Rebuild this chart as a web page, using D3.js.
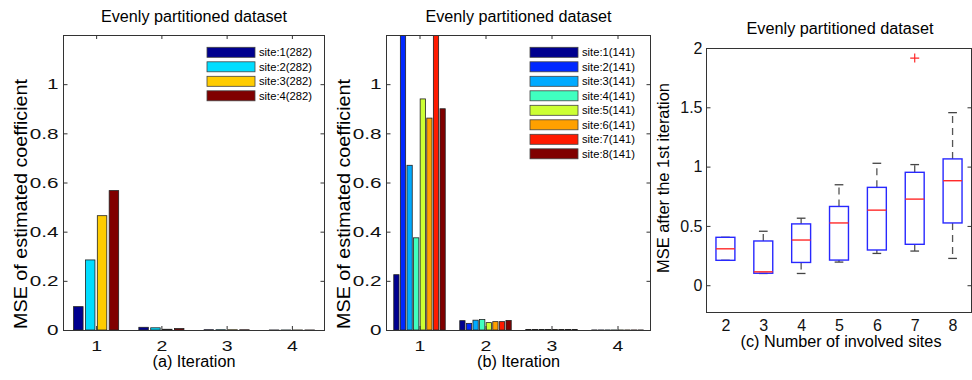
<!DOCTYPE html>
<html>
<head>
<meta charset="utf-8">
<script src="https://cdn.jsdelivr.net/npm/d3@7"></script>
<style>
  body { margin: 0; background: #fff; }
  svg { display: block; font-family: "Liberation Sans", Arial, Helvetica, sans-serif; }
  .axis path { display: none; }
  .axis line { stroke: #333; }
  .axis text { fill: #111; }
</style>
</head>
<body>
<div id="chart"></div>
<script>
// ---- data ----
const iterations = [1, 2, 3, 4];
const yTicksBar = [0, 0.2, 0.4, 0.6, 0.8, 1];

// (a) four sites, 282 samples each: MSE per iteration
const sitesA = ["site:1(282)", "site:2(282)", "site:3(282)", "site:4(282)"];
const mseA = [
    [0.095, 0.011, 0.0012, 0.0002],
    [0.285, 0.009, 0.0012, 0.0002],
    [0.465, 0.003, 0.0010, 0.0002],
    [0.567, 0.006, 0.0010, 0.0002]
];
const colorsA = ["#00008f", "#00ddff", "#ffcc00", "#800000"];

// (b) eight sites, 141 samples each
const sitesB = ["site:1(141)", "site:2(141)", "site:3(141)", "site:4(141)",
                "site:5(141)", "site:6(141)", "site:7(141)", "site:8(141)"];
const mseB = [
    [0.225, 0.038, 0.002, 0.0003],
    [1.300, 0.027, 0.002, 0.0003],
    [0.670, 0.040, 0.002, 0.0003],
    [0.375, 0.043, 0.002, 0.0003],
    [0.940, 0.030, 0.002, 0.0003],
    [0.862, 0.034, 0.002, 0.0003],
    [1.350, 0.034, 0.002, 0.0003],
    [0.900, 0.039, 0.002, 0.0003]
];
const colorsB = ["#00008f", "#0028ff", "#00aaff", "#40ffc0", "#ccff33", "#ffa000", "#ff1a00", "#800000"];

// (c) box plot: MSE after the 1st iteration vs number of sites
const siteCounts = [2, 3, 4, 5, 6, 7, 8];
const whiskerLo = [0.210, 0.099, 0.099, 0.195, 0.268, 0.288, 0.226];
const q1 = [0.210, 0.101, 0.192, 0.212, 0.297, 0.345, 0.525];
const medians = [0.307, 0.113, 0.381, 0.525, 0.633, 0.726, 0.881];
const q3 = [0.404, 0.373, 0.517, 0.664, 0.825, 0.952, 1.065];
const whiskerHi = [0.404, 0.455, 0.565, 0.847, 1.028, 1.017, 1.455];
const outliers = [[], [], [], [], [], [1.915], []];
const yTicksBox = [0, 0.5, 1, 1.5, 2];

const title = "Evenly partitioned dataset";

// ---- drawing ----
const width = 972, height = 380;
const svg = d3.select("#chart").append("svg")
    .attr("width", width)
    .attr("height", height);

const tickFmt = d => String(+d.toFixed(2));

// the source figure's font is wider than Liberation Sans, so widen text along its baseline
function fitWidth(sel, w) {
    sel.attr("textLength", w).attr("lengthAdjust", "spacingAndGlyphs");
}
// widen axis tick labels around their anchor point
function widen(sel, k) {
    sel.each(function () {
        const x0 = +this.getAttribute("x") || 0;
        d3.select(this).attr("transform", `translate(${x0},0) scale(${k},1) translate(${-x0},0)`);
    });
}

function frame(g, w, h) {
    g.append("rect")
        .attr("width", w).attr("height", h)
        .attr("fill", "none")
        .attr("stroke", "#333")
        .attr("shape-rendering", "crispEdges");
}

function barPanel(opts) {
    const { left, right, top, bottom, sites, values, colors, xlabel, clipId, legendX, ylabelX } = opts;
    const w = right - left, h = bottom - top;
    const g = svg.append("g").attr("transform", `translate(${left},${top})`);

    const x = d3.scaleLinear().domain([0.5, 4.5]).range([0, w]);
    const y = d3.scaleLinear().domain([0, 1.2]).range([h, 0]);

    // grouped bars, MATLAB style group width
    const n = sites.length;
    const groupW = Math.min(0.8, n / (n + 1.5));

    g.append("clipPath").attr("id", clipId)
        .append("rect").attr("width", w).attr("height", h);

    const bars = g.append("g").attr("clip-path", `url(#${clipId})`);
    iterations.forEach((it, i) => {
        const inner = d3.scaleBand()
            .domain(d3.range(n))
            .range([x(it - groupW / 2), x(it + groupW / 2)])
            .paddingInner(0.2)
            .paddingOuter(0.1);
        bars.selectAll(null)
            .data(sites.map((s, k) => ({ k, v: values[k][i] })))
            .enter().append("rect")
            .attr("x", d => inner(d.k))
            .attr("width", inner.bandwidth())
            .attr("y", d => y(d.v))
            .attr("height", d => y(0) - y(d.v))
            .attr("fill", d => colors[d.k])
            .attr("stroke", "#222")
            .attr("stroke-width", 0.8);
    });

    // axes with inward ticks
    g.append("g").attr("class", "axis")
        .attr("transform", `translate(0,${h})`)
        .call(d3.axisBottom(x).tickValues(iterations).tickSize(-4).tickPadding(10).tickFormat(d3.format("d")))
        .selectAll("text").style("font-size", "15px").call(widen, 1.3);
    g.append("g").attr("class", "axis")
        .call(d3.axisTop(x).tickValues(iterations).tickSize(-4).tickFormat(""));
    g.append("g").attr("class", "axis")
        .call(d3.axisLeft(y).tickValues(yTicksBar).tickSize(-4).tickPadding(5).tickFormat(tickFmt))
        .selectAll("text").style("font-size", "15px").call(widen, 1.38);
    g.append("g").attr("class", "axis")
        .attr("transform", `translate(${w},0)`)
        .call(d3.axisRight(y).tickValues(yTicksBar).tickSize(-4).tickFormat(""));
    frame(g, w, h);

    // legend
    const lg = svg.append("g").attr("transform", `translate(${legendX},47.3)`);
    sites.forEach((s, k) => {
        const row = lg.append("g").attr("transform", `translate(0,${k * 14.5})`);
        row.append("rect")
            .attr("width", 48).attr("height", 10)
            .attr("fill", colors[k])
            .attr("stroke", "#444").attr("stroke-width", 0.8);
        row.append("text")
            .attr("x", 52).attr("y", 9)
            .style("font-size", "11px")
            .text(s)
            .call(fitWidth, 53);
    });

    // titles and labels
    svg.append("text")
        .attr("x", left + w / 2).attr("y", 22)
        .attr("text-anchor", "middle")
        .style("font-size", "16px")
        .text(title)
        .call(fitWidth, 186);
    svg.append("text")
        .attr("x", left + w / 2).attr("y", 366.5)
        .attr("text-anchor", "middle")
        .style("font-size", "16px")
        .text(xlabel)
        .call(fitWidth, 83);
    svg.append("text")
        .attr("transform", `translate(${ylabelX},204) rotate(-90)`)
        .attr("text-anchor", "middle")
        .style("font-size", "17.5px")
        .text("MSE of estimated coefficient")
        .call(fitWidth, 250);
}

barPanel({ left: 63.5, right: 324.5, top: 35, bottom: 330, sites: sitesA, values: mseA,
    colors: colorsA, xlabel: "(a) Iteration", clipId: "clipA", legendX: 207, ylabelX: 27 });
barPanel({ left: 386.5, right: 650.5, top: 35, bottom: 330, sites: sitesB, values: mseB,
    colors: colorsB, xlabel: "(b) Iteration", clipId: "clipB", legendX: 530, ylabelX: 350 });

// ---- (c) box plot ----
(function () {
    const left = 706.5, right = 971.5, top = 48, bottom = 312.5;
    const w = right - left, h = bottom - top;
    const g = svg.append("g").attr("transform", `translate(${left},${top})`);

    const x = d3.scaleLinear().domain([1.5, 8.5]).range([0, w]);
    const y = d3.scaleLinear().domain([-0.23, 2]).range([h, 0]);
    const boxHalf = x(2.25) - x(2);
    const capHalf = x(2.115) - x(2);

    const stats = siteCounts.map((c, i) => ({
        c, lo: whiskerLo[i], q1: q1[i], med: medians[i], q3: q3[i], hi: whiskerHi[i], out: outliers[i]
    }));

    const box = g.selectAll(".box").data(stats).enter().append("g")
        .attr("transform", d => `translate(${x(d.c)},0)`);

    // whiskers (dashed) and caps
    box.append("line")
        .attr("y1", d => y(d.q3)).attr("y2", d => y(d.hi))
        .attr("stroke", "#555").attr("stroke-width", 1.3).attr("stroke-dasharray", "7,5");
    box.append("line")
        .attr("y1", d => y(d.q1)).attr("y2", d => y(d.lo))
        .attr("stroke", "#555").attr("stroke-width", 1.3).attr("stroke-dasharray", "7,5");
    box.append("line")
        .attr("x1", -capHalf).attr("x2", capHalf)
        .attr("y1", d => y(d.hi)).attr("y2", d => y(d.hi))
        .attr("stroke", "#444").attr("stroke-width", 1.3);
    box.append("line")
        .attr("x1", -capHalf).attr("x2", capHalf)
        .attr("y1", d => y(d.lo)).attr("y2", d => y(d.lo))
        .attr("stroke", "#444").attr("stroke-width", 1.3);

    box.append("rect")
        .attr("x", -boxHalf).attr("width", 2 * boxHalf)
        .attr("y", d => y(d.q3)).attr("height", d => y(d.q1) - y(d.q3))
        .attr("fill", "none").attr("stroke", "#2828ff").attr("stroke-width", 1.4);
    box.append("line")
        .attr("x1", -boxHalf).attr("x2", boxHalf)
        .attr("y1", d => y(d.med)).attr("y2", d => y(d.med))
        .attr("stroke", "#ff2a2a").attr("stroke-width", 1.4);

    box.selectAll(".out").data(d => d.out).enter().append("path")
        .attr("d", v => `M-4.5,${y(v)}H4.5M0,${y(v) - 4.5}V${y(v) + 4.5}`)
        .attr("stroke", "#ff2a2a").attr("stroke-width", 1.2);

    g.append("g").attr("class", "axis")
        .attr("transform", `translate(0,${h})`)
        .call(d3.axisBottom(x).tickValues(siteCounts).tickSize(0).tickPadding(7.5).tickFormat(d3.format("d")))
        .selectAll("text").style("font-size", "16px");
    g.append("g").attr("class", "axis")
        .call(d3.axisLeft(y).tickValues(yTicksBox).tickSize(-4).tickPadding(4).tickFormat(tickFmt))
        .selectAll("text").style("font-size", "16px");
    g.append("g").attr("class", "axis")
        .attr("transform", `translate(${w},0)`)
        .call(d3.axisRight(y).tickValues(yTicksBox).tickSize(-4).tickFormat(""));
    frame(g, w, h);

    svg.append("text")
        .attr("x", 840).attr("y", 34)
        .attr("text-anchor", "middle")
        .style("font-size", "16px")
        .text(title)
        .call(fitWidth, 187);
    svg.append("text")
        .attr("x", 841).attr("y", 347)
        .attr("text-anchor", "middle")
        .style("font-size", "16px")
        .text("(c) Number of involved sites")
        .call(fitWidth, 201);
    svg.append("text")
        .attr("transform", `translate(669,178) rotate(-90)`)
        .attr("text-anchor", "middle")
        .style("font-size", "16px")
        .text("MSE after the 1st iteration")
        .call(fitWidth, 190);
})();
</script>
</body>
</html>
